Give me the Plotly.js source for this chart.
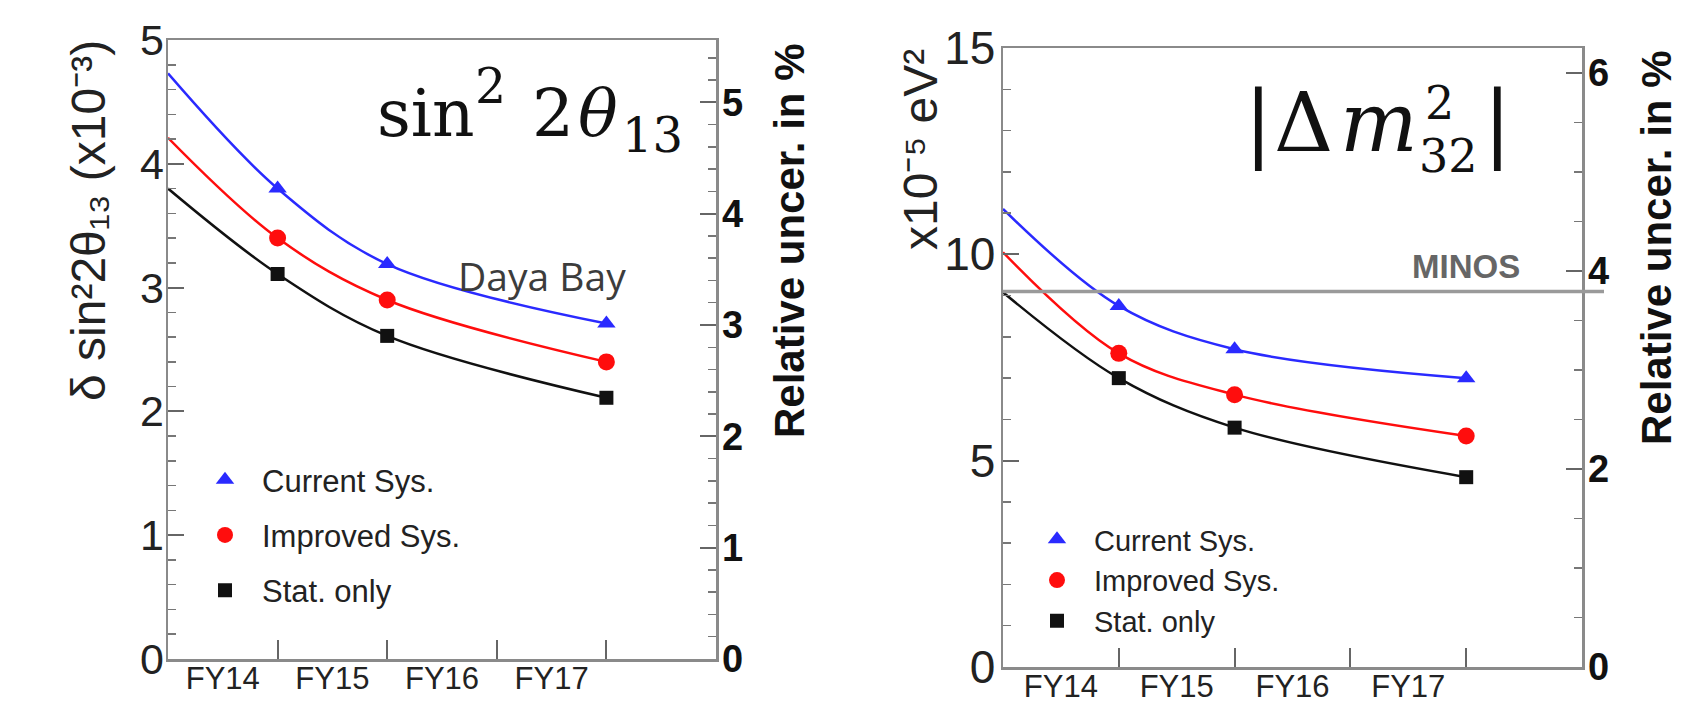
<!DOCTYPE html>
<html><head><meta charset="utf-8">
<script src="https://cdn.plot.ly/plotly-3.0.1.min.js"></script>
<style>html,body{margin:0;padding:0;background:#fff}#chart{width:1692px;height:704px}</style>
</head><body><div id="chart"></div>
<script>
// ---------- data ----------
const fyLabels = ['FY14', 'FY15', 'FY16', 'FY17'];
const fyLabelPos = [0.5, 1.5, 2.5, 3.5];
const fyBoundaries = [1, 2, 3, 4];
const curveX = [0, 1, 2, 4];
const markerX = [1, 2, 4];
const seriesNames = ['Current Sys.', 'Improved Sys.', 'Stat. only'];

// delta sin^2 2theta13 (x10^-3)
const thetaStart = [4.73, 4.21, 3.80];
const thetaCurrent = [3.80, 3.19, 2.71];
const thetaImproved = [3.40, 2.90, 2.40];
const thetaStat = [3.11, 2.61, 2.11];

// delta |dm^2_32| (x10^-5 eV^2)
const dmStart = [11.1, 10.05, 9.08];
const dmCurrent = [8.75, 7.70, 7.00];
const dmImproved = [7.60, 6.60, 5.60];
const dmStat = [7.00, 5.80, 4.60];
const minosLevel = 9.1;

// axis ranges (left axis value / right axis relative uncertainty in %)
const thetaAxisMax = 5, thetaRelMax = 5.56;
const dmAxisMax = 15, dmRelMax = 6.25;

// ---------- style ----------
const colors = ['#2a2aff', '#ff0d0d', '#111111'];
const symbols = ['triangle-up', 'circle', 'square'];
const msize = [16, 17, 14];
const SANS = 'Liberation Sans, Arial, sans-serif';
const SERIF = 'DejaVu Serif, serif';
const W = 1692, H = 704;
const px = x => x / W, py = y => 1 - y / H;

const traces = [];
function addPanel(start, series, xa, ya, legendId, tag) {
  series.forEach((vals, i) => {
    traces.push({
      x: curveX, y: [start[i]].concat(vals), xaxis: xa, yaxis: ya,
      mode: 'lines', line: {color: colors[i], width: 2.5, shape: 'spline', smoothing: 1},
      showlegend: false, hoverinfo: 'skip'
    });
    traces.push({
      x: markerX, y: vals, xaxis: xa, yaxis: ya, name: seriesNames[i],
      mode: 'markers', marker: {color: colors[i], symbol: symbols[i], size: msize[i]},
      legend: legendId, legendgroup: tag + i, showlegend: true
    });
  });
}
addPanel(thetaStart, [thetaCurrent, thetaImproved, thetaStat], 'x', 'y', 'legend', 'L');
addPanel(dmStart, [dmCurrent, dmImproved, dmStat], 'x2', 'y3', 'legend2', 'R');
traces.push({x: [], y: [], xaxis: 'x', yaxis: 'y2', showlegend: false});
traces.push({x: [], y: [], xaxis: 'x2', yaxis: 'y4', showlegend: false});

const axisLine = '#8a8a8a';
function xAxis(domain, anchor) {
  return {
    domain: domain, anchor: anchor, range: [0, 5],
    tickmode: 'array', tickvals: fyLabelPos, ticktext: fyLabels, ticks: '',
    ticklabelstandoff: -10,
    tickfont: {family: SANS, size: 31, color: '#222'},
    minor: {tickmode: 'array', tickvals: fyBoundaries, ticks: 'inside', ticklen: 19, tickwidth: 2, tickcolor: '#666'},
    showline: true, mirror: true, linecolor: axisLine, linewidth: 2.5,
    showgrid: false, zeroline: false, fixedrange: true
  };
}
function yLeft(domain, anchor, max, dtick, mdtick, fs, standoff) {
  return {
    domain: domain, anchor: anchor, range: [0, max], dtick: dtick, tick0: 0,
    ticks: 'inside', ticklen: 16, tickwidth: 2, tickcolor: '#666', ticklabelstandoff: standoff,
    minor: {dtick: mdtick, tick0: 0, ticks: 'inside', ticklen: 8, tickwidth: 1.5, tickcolor: '#777'},
    tickfont: {family: SANS, size: fs, color: '#222'},
    showline: true, linecolor: axisLine, linewidth: 2.5,
    showgrid: false, zeroline: false, fixedrange: true
  };
}
function yRight(over, anchor, max, dtick, mdtick) {
  return {
    overlaying: over, side: 'right', anchor: anchor, range: [0, max], dtick: dtick, tick0: 0,
    ticks: 'inside', ticklen: 16, tickwidth: 2, tickcolor: '#666', ticklabelstandoff: -4,
    minor: {dtick: mdtick, tick0: 0, ticks: 'inside', ticklen: 8, tickwidth: 1.5, tickcolor: '#777'},
    tickfont: {family: SANS, size: 38, color: '#111', weight: 'bold'},
    showline: true, linecolor: axisLine, linewidth: 2.5,
    showgrid: false, zeroline: false, fixedrange: true
  };
}

const legendBase = {
  xanchor: 'left', yanchor: 'top', bgcolor: 'rgba(0,0,0,0)', borderwidth: 0, itemwidth: 64
};

const titleFont = {family: SANS, size: 48, color: '#222'};
const relFont = {family: SANS, size: 42, color: '#111', weight: 'bold'};
const mathFont = (s, st) => ({family: SERIF, size: s, color: '#111', style: st || 'normal'});

function piece(text, x, y, font, xanchor) {
  return {xref: 'paper', yref: 'paper', x: px(x), y: py(y), xanchor: xanchor || 'left', yanchor: 'middle',
          align: 'left', showarrow: false, text: text, font: font};
}
function vtitle(text, x, y, font) {
  return {xref: 'paper', yref: 'paper', x: px(x), y: py(y), xanchor: 'center', yanchor: 'middle',
          showarrow: false, textangle: -90, text: text, font: font};
}

const layout = {
  width: W, height: H, margin: {l: 0, r: 0, t: 0, b: 0},
  paper_bgcolor: '#ffffff', plot_bgcolor: '#ffffff',
  showlegend: true,
  xaxis: xAxis([px(168), px(716)], 'y'),
  yaxis: yLeft([py(659), py(40)], 'x', thetaAxisMax, 1, 0.2, 43, -7),
  yaxis2: yRight('y', 'x', thetaRelMax, 1, 0.2),
  xaxis2: xAxis([px(1003), px(1582)], 'y3'),
  yaxis3: yLeft([py(667), py(48)], 'x2', dmAxisMax, 5, 1, 46, -4),
  yaxis4: yRight('y3', 'x2', dmRelMax, 2, 0.5),
  legend: Object.assign({x: px(188), y: py(453), tracegroupgap: 12,
    font: {family: SANS, size: 31, color: '#222'}}, legendBase),
  legend2: Object.assign({x: px(1020), y: py(514), tracegroupgap: 0,
    font: {family: SANS, size: 29, color: '#222'}}, legendBase),
  shapes: [{
    type: 'line', xref: 'x2 domain', yref: 'y3', x0: 0, x1: 1.038, y0: minosLevel, y1: minosLevel,
    line: {color: '#9a9a9a', width: 3.5}, layer: 'above'
  }],
  annotations: [
    vtitle('δ sin²2θ₁₃ (x10⁻³)', 88, 221, titleFont),
    vtitle('Relative uncer. in %', 790, 241, relFont),
    vtitle('x10⁻⁵ eV²', 920, 150, titleFont),
    vtitle('Relative uncer. in %', 1656, 248, relFont),
    piece('sin', 375, 114, mathFont(66)),
    piece('2', 473, 86, mathFont(49)),
    piece('2', 530, 114, mathFont(66)),
    piece('θ', 576, 114, mathFont(66, 'italic')),
    piece('13', 620, 135, mathFont(48)),
    piece('|', 1258, 121, mathFont(85), 'center'),
    piece('Δ', 1272, 122, mathFont(82)),
    piece('m', 1338, 122, mathFont(82, 'italic')),
    piece('2', 1423, 103, mathFont(46)),
    piece('32', 1417, 156, mathFont(46)),
    piece('|', 1497, 121, mathFont(85), 'center'),
    piece('Daya Bay', 456, 275, {family: 'Open Sans, sans-serif', size: 39, color: '#3c3c3c'}),
    piece('MINOS', 1410, 266, {family: SANS, size: 33, color: '#666', weight: 'bold'})
  ]
};

Plotly.newPlot('chart', traces, layout, {displayModeBar: false, staticPlot: true});
</script>
</body></html>
